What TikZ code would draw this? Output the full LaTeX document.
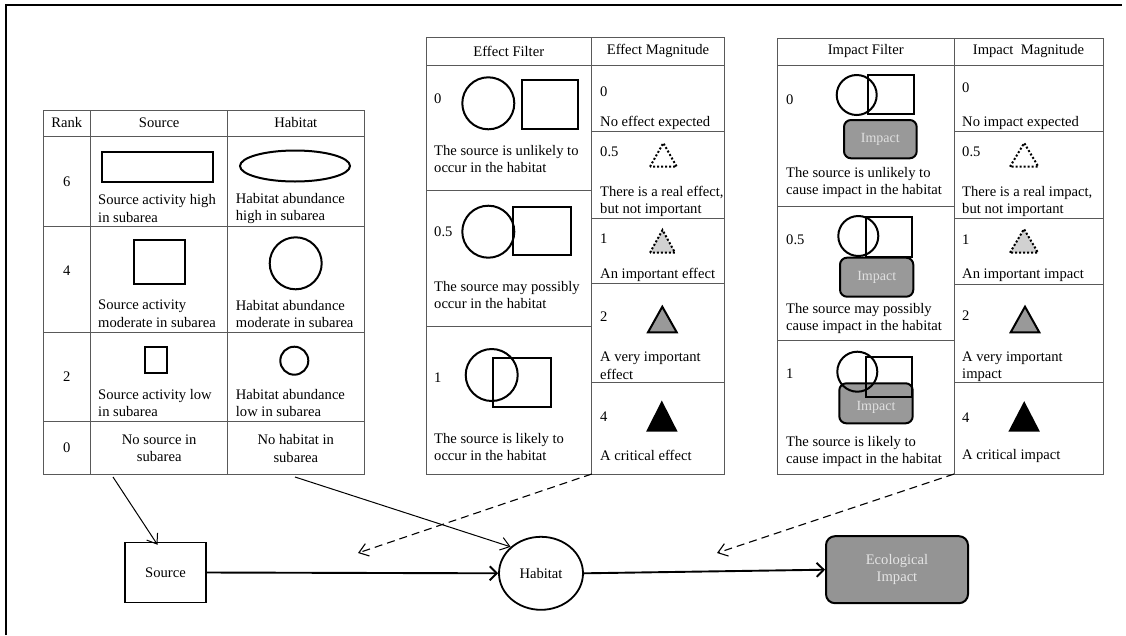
\documentclass[tikz,border=0pt]{standalone}
\usepackage{fontspec}
\setmainfont{Liberation Serif}
\usetikzlibrary{arrows.meta,shapes.geometric}
\begin{document}
\begin{tikzpicture}[x=1pt,y=-1pt,
  grid/.style={draw=black!65, line width=0.8pt},
  shp/.style={draw=black, line width=2pt},
  txt/.style={inner sep=0pt, anchor=west, align=left, font=\fontsize{14.6}{17.3}\selectfont},
  ctxt/.style={inner sep=0pt, align=center, font=\fontsize{14.6}{17.3}\selectfont},
  impbox/.style={draw=black, line width=2pt, rounded corners=7pt, fill=black!40},
  implbl/.style={inner sep=0pt, text=black!12, font=\fontsize{14}{16}\selectfont},
  dottri/.style={draw=black, line width=2pt, dash pattern=on 2pt off 2pt},
  soltri/.style={draw=black, line width=2pt, line join=miter},
  flow/.style={line width=1.9pt, -{Straight Barb[length=7pt,width=14pt,line width=1.9pt]}},
  feed/.style={line width=1pt, -{Straight Barb[length=9pt,width=13pt,line width=1pt]}},
  dfeed/.style={line width=1.1pt, dash pattern=on 8pt off 5pt, -{Straight Barb[length=9pt,width=13pt,line width=1.1pt]}}
]
\useasboundingbox (0,0) rectangle (1126,635);

% outer frame (top and left edges)
\draw[line width=1.8pt] (6,635) -- (6,5) -- (1122,5);

% ---------------- rank table ----------------
\draw[grid] (43,110) rectangle (364,474);
\draw[grid] (90.7,110) -- (90.7,474) (227.7,110) -- (227.7,474);
\draw[grid] (43,136.7) -- (364,136.7) (43,226) -- (364,226)
            (43,332) -- (364,332) (43,421) -- (364,421);
\node[ctxt] (hrank) at (66.8,123) {Rank};
\node[ctxt] (hsrc) at (159.2,123) {Source};
\node[ctxt] (hhab) at (295.8,123) {Habitat};

\node[ctxt] (r6) at (66.8,182) {6};
\node[ctxt] (r4) at (66.8,271) {4};
\node[ctxt] (r2) at (66.8,377) {2};
\node[ctxt] (r0) at (66.8,448) {0};

\draw[shp] (101.7,151.7) rectangle (212.7,181.7);
\draw[shp] (295,166) ellipse (55 and 15.5);
\node[txt] (s6) at (98,208.5) {Source activity high\\in subarea};
\node[txt] (h6) at (235.7,208.5) {Habitat abundance\\high in subarea};

\draw[shp] (134,240) rectangle (185,284);
\draw[shp] (295.7,263.3) circle (26);
\node[txt] (s4) at (98,313.8) {Source activity\\moderate in subarea};
\node[txt] (h4) at (235.7,313.8) {Habitat abundance\\moderate in subarea};

\draw[shp] (145,346.7) rectangle (167,373.3);
\draw[shp] (294.3,360.7) circle (14);
\node[txt] (s2) at (98,403) {Source activity low\\in subarea};
\node[txt] (h2) at (235.7,403) {Habitat abundance\\low in subarea};

\node[ctxt] (s0) at (159.2,448.5) {No source in\\subarea};
\node[ctxt] (h0) at (295.8,448.5) {No habitat in\\subarea};

% ---------------- effect table ----------------
\draw[grid] (426,37.3) rectangle (724,474);
\draw[grid] (591.7,37.3) -- (591.7,474) (426,65) -- (724,65);
\draw[grid] (426,190.7) -- (591.7,190.7) (426,326.5) -- (591.7,326.5);
\draw[grid] (591.7,131) -- (724,131) (591.7,218.3) -- (724,218.3)
            (591.7,283.5) -- (724,283.5) (591.7,382.7) -- (724,382.7);
\node[ctxt] (hef) at (508.8,51) {Effect Filter};
\node[ctxt] (hem) at (658,51) {Effect Magnitude};

\node[txt] (ef0) at (434,98.3) {0};
\draw[shp] (488.3,103.3) circle (26);
\draw[shp] (521.7,80) rectangle (578.3,129.3);
\node[txt] (ef0t) at (434,158.7) {The source is unlikely to\\occur in the habitat};

\node[txt] (ef5) at (434,231.7) {0.5};
\draw[shp] (488.3,231.7) circle (26);
\draw[shp] (513.3,206.7) rectangle (570.7,255);
\node[txt] (ef5t) at (434,295.3) {The source may possibly\\occur in the habitat};

\node[txt] (ef1) at (434,377.3) {1};
\draw[shp] (491.7,375) circle (26);
\draw[shp] (493.3,357.7) rectangle (550.7,407.3);
\node[txt] (ef1t) at (434,446.8) {The source is likely to\\occur in the habitat};

\node[txt] (em0) at (600,91.7) {0};
\node[txt] (em0t) at (600,122.7) {No effect expected};
\node[txt] (em5) at (600,151.7) {0.5};
\draw[dottri] (650,166.7) -- (663.3,143) -- (676.7,166.7) -- cycle;
\node[txt] (em5t) at (600,201.3) {There is a real effect,\\but not important};
\node[txt] (em1) at (600,238.3) {1};
\draw[dottri, fill=black!18] (650,252.7) -- (662.5,230) -- (675,252.7) -- cycle;
\node[txt] (em1t) at (600,275) {An important effect};
\node[txt] (em2) at (600,316.7) {2};
\draw[soltri, fill=black!40] (648,332.3) -- (662.3,306.7) -- (676.7,332.3) -- cycle;
\node[txt] (em2t) at (600,365.7) {A very important\\effect};
\node[txt] (em4) at (600,416.7) {4};
\draw[soltri, fill=black] (647.7,430.7) -- (661.8,402.7) -- (676,430.7) -- cycle;
\node[txt] (em4t) at (600,455) {A critical effect};

% ---------------- impact table ----------------
\draw[grid] (777.3,38.3) rectangle (1103,474);
\draw[grid] (954,38.3) -- (954,474) (777.3,65) -- (1103,65);
\draw[grid] (777.3,206) -- (954,206) (777.3,340.7) -- (954,340.7);
\draw[grid] (954,131) -- (1103,131) (954,218.3) -- (1103,218.3)
            (954,284) -- (1103,284) (954,382.7) -- (1103,382.7);
\node[ctxt] (hif) at (865.7,51) {Impact Filter};
\node[ctxt] (him) at (1028.5,51) {Impact~ Magnitude};

\node[txt] (if0) at (786,100) {0};
\draw[shp] (856.7,95) circle (20);
\draw[shp] (868.3,75) rectangle (914,114);
\draw[impbox] (844,120) rectangle (916.7,158.3);
\node[implbl] (ib0) at (880.3,139) {Impact};
\node[txt] (if0t) at (786,182.8) {The source is unlikely to\\cause impact in the habitat};

\node[txt] (if5) at (786,240) {0.5};
\draw[shp] (858.3,236) circle (20);
\draw[shp] (866,216.7) rectangle (911.7,256.7);
\draw[impbox] (840,257.7) rectangle (913.3,296.7);
\node[implbl] (ib5) at (876.7,277.2) {Impact};
\node[txt] (if5t) at (786,318.7) {The source may possibly\\cause impact in the habitat};

\node[txt] (if1) at (786,373.3) {1};
\draw[impbox] (839.3,383.3) rectangle (912.7,423.3);
\draw[shp] (857.3,371.7) circle (20);
\draw[shp] (866,356.7) rectangle (911.7,396.7);
\node[implbl] (ib1) at (876,407) {Impact};
\node[txt] (if1t) at (786,451.7) {The source is likely to\\cause impact in the habitat};

\node[txt] (im0) at (962,87.3) {0};
\node[txt] (im0t) at (962,122.7) {No impact expected};
\node[txt] (im5) at (962,151.7) {0.5};
\draw[dottri] (1010,166.7) -- (1024.2,143) -- (1038.3,166.7) -- cycle;
\node[txt] (im5t) at (962,201.3) {There is a real impact,\\but not important};
\node[txt] (im1) at (962,239.3) {1};
\draw[dottri, fill=black!18] (1010,252.7) -- (1024,229) -- (1038,252.7) -- cycle;
\node[txt] (im1t) at (962,275.7) {An important impact};
\node[txt] (im2) at (962,316) {2};
\draw[soltri, fill=black!40] (1010.7,332.3) -- (1025,306.7) -- (1039.3,332.3) -- cycle;
\node[txt] (im2t) at (962,366.7) {A very important\\impact};
\node[txt] (im4) at (962,417.3) {4};
\draw[soltri, fill=black] (1010,430.7) -- (1024.2,403.3) -- (1038.3,430.7) -- cycle;
\node[txt] (im4t) at (962,455.7) {A critical impact};

% ---------------- flow ----------------
\node[draw, line width=1.5pt, minimum width=81pt, minimum height=60pt, ctxt]
  (source) at (165.5,572.5) {Source};
\node[draw, ellipse, line width=1.8pt, minimum width=84pt, minimum height=73pt, ctxt]
  (habitat) at (541,573.3) {Habitat};
\node[draw, line width=2pt, rounded corners=9pt, fill=black!42, minimum width=142pt,
  minimum height=67pt, ctxt, text=black!10] (eco) at (897,569.7) {Ecological\\Impact};

\coordinate (srcfoot) at (113,477);
\coordinate (habfoot) at (295,477);
\coordinate (effoot) at (591.7,474);
\coordinate (imfoot) at (954,474);
\coordinate (eftip) at (358,553);
\coordinate (imtip) at (717,553);

\draw[flow] (source.east) -- (habitat.west);
\draw[flow] (habitat.east) -- (eco.west);
\draw[feed] (srcfoot) -- ([xshift=-8pt,yshift=-3pt]source.north);
\draw[feed] (habfoot) -- (habitat.north west);
\draw[dfeed] (effoot) -- (eftip);
\draw[dfeed] (imfoot) -- (imtip);
\end{tikzpicture}
\end{document}
